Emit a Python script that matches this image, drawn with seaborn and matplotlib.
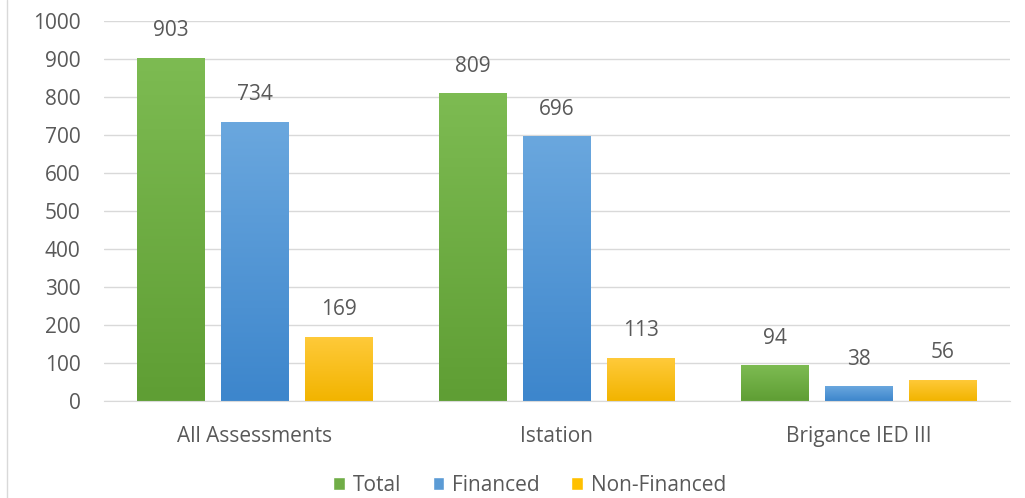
import pandas as pd
import numpy as np
import matplotlib
matplotlib.use('Agg')
import matplotlib.pyplot as plt
import seaborn as sns

categories = ['All Assessments', 'Istation', 'Brigance IED III']
total = [903, 809, 94]
financed = [734, 696, 38]
non_financed = [169, 113, 56]
series = ['Total', 'Financed', 'Non-Financed']

df = pd.DataFrame({
    'category': categories * 3,
    'series': ['Total'] * 3 + ['Financed'] * 3 + ['Non-Financed'] * 3,
    'value': total + financed + non_financed,
})

sns.set_style('white')
plt.rcParams['font.family'] = ['Open Sans', 'DejaVu Sans']
txt = '#595959'
fs = 15

palette = {'Total': '#70AD47', 'Financed': '#5B9BD5', 'Non-Financed': '#FFC000'}
# lighter top / darker bottom, like the office gradient fill
grad = {'#70AD47': ('#7dbb52', '#5f9e34'),
        '#5B9BD5': ('#6aa7de', '#3d86cc'),
        '#FFC000': ('#ffca3a', '#f2b400')}

fig = plt.figure(figsize=(10.25, 4.98), dpi=100)
ax = fig.add_axes([0.1015, 0.195, 0.8835, 0.763])

sns.barplot(data=df, x='category', y='value', hue='series', hue_order=series,
            palette=palette, saturation=1, width=0.834, gap=0.2, ax=ax, legend=True)

ax.set_ylim(0, 1000)
ax.set_yticks(range(0, 1001, 100))
ax.set_xlim(-0.5, 2.5)
ax.yaxis.grid(True, color='#d9d9d9', linewidth=1)
ax.set_axisbelow(True)
for s in ['top', 'right', 'left']:
    ax.spines[s].set_visible(False)
ax.spines['bottom'].set_color('#d9d9d9')
ax.set_xlabel('')
ax.set_ylabel('')
ax.tick_params(axis='y', length=0, pad=17, labelsize=fs, labelcolor=txt)
ax.tick_params(axis='x', length=0, pad=18, labelsize=fs, labelcolor=txt)

# gradient fills clipped to the bars
for cont in ax.containers:
    for p in cont.patches:
        fc = matplotlib.colors.to_hex(p.get_facecolor()).upper()
        top, bot = grad.get(fc, (fc, fc))
        cmap = matplotlib.colors.LinearSegmentedColormap.from_list('g', [bot, top])
        x0, y0 = p.get_x(), p.get_y()
        w, h = p.get_width(), p.get_height()
        im = ax.imshow(np.linspace(0, 1, 100).reshape(-1, 1), cmap=cmap, aspect='auto',
                       origin='lower', extent=[x0, x0 + w, y0, y0 + h], zorder=2.5)
        im.set_clip_path(p)
        p.set_edgecolor('none')
    ax.bar_label(cont, padding=12, fontsize=fs, color=txt)
ax.set_xlim(-0.5, 2.5)
ax.set_ylim(0, 1000)

handles, labels = ax.get_legend_handles_labels()
ax.legend(handles, labels, loc='center', bbox_to_anchor=(0.47, -0.222), ncol=3,
          frameon=False, fontsize=fs, labelcolor=txt, handlelength=0.55, handleheight=0.55,
          handletextpad=0.4, columnspacing=1.5, borderpad=0.2)

fig.add_artist(plt.Line2D([7 / 1025, 7 / 1025], [0, 1], transform=fig.transFigure,
                          color='#d9d9d9', linewidth=1))

fig.savefig('out.png', dpi=100)
